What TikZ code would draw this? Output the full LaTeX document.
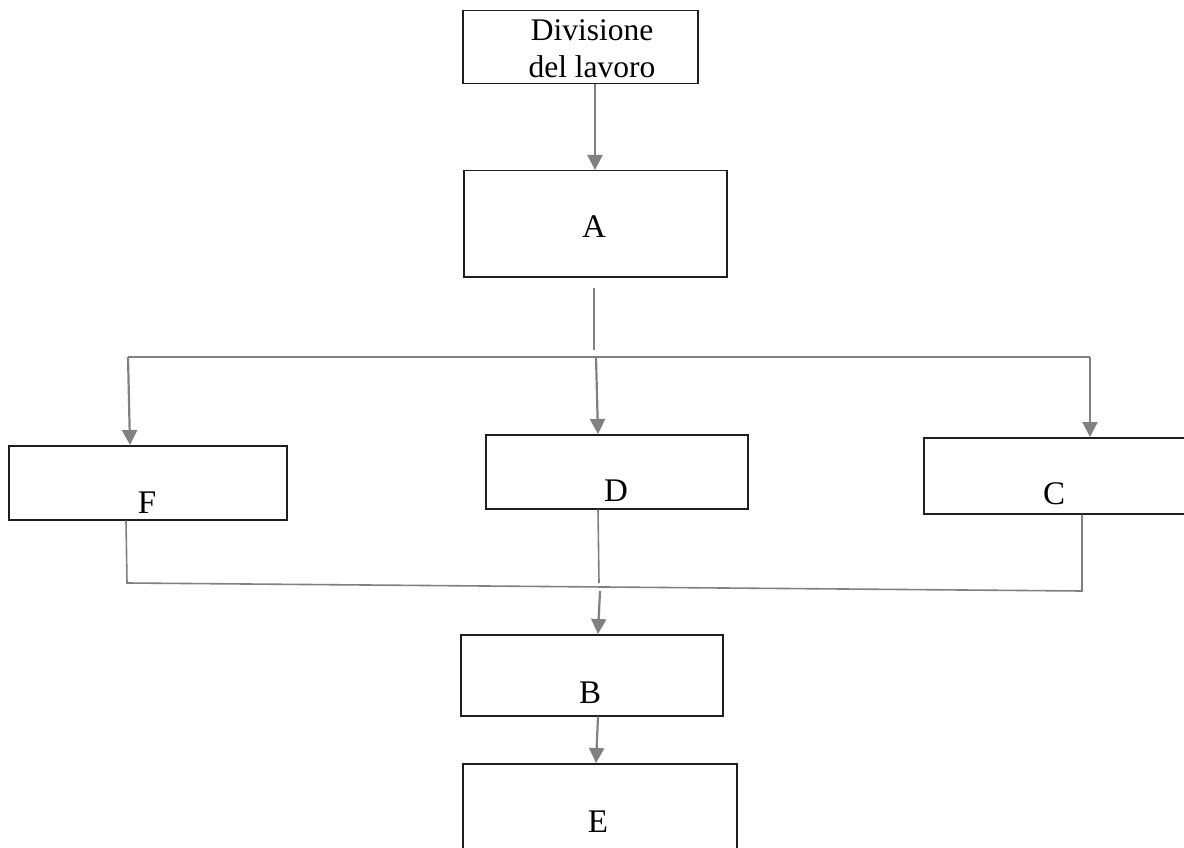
\documentclass[tikz,border=0pt]{standalone}
\usepackage{fontspec}
\setmainfont{Liberation Serif}
\usetikzlibrary{arrows.meta}
\definecolor{linkgray}{RGB}{128,128,128}
\definecolor{boxline}{RGB}{30,30,30}
\tikzset{
  box/.style={draw=boxline, line width=1.5pt, inner sep=0pt, anchor=north west},
  letter/.style={anchor=base, inner sep=0pt, font=\fontsize{33}{33}\selectfont},
  link/.style={draw=linkgray, line width=2.2pt},
  thin link/.style={draw=linkgray, line width=1.6pt},
  arrowlink/.style={link, -{Triangle[width=15pt,length=15pt]}}
}
\begin{document}
\begin{tikzpicture}[x=1pt,y=-1pt]
  \clip (0,0) rectangle (1184,848);
  \fill[white] (0,0) rectangle (1184,848);

  % boxes
  \node[box, minimum width=235pt, minimum height=73pt]  (div) at (462,10)  {};
  \node[box, minimum width=263pt, minimum height=106pt] (A)   at (463,170) {};
  \node[box, minimum width=278pt, minimum height=74pt]  (F)   at (8,445)   {};
  \node[box, minimum width=262pt, minimum height=74pt]  (D)   at (485,434) {};
  \node[box, minimum width=270pt, minimum height=76pt]  (C)   at (923,437) {};
  \node[box, minimum width=262pt, minimum height=81pt]  (B)   at (460,634) {};
  \node[box, minimum width=274pt, minimum height=110pt] (E)   at (462,763) {};

  % texts
  \node[align=center, inner sep=0pt, font=\fontsize{31.5}{37}\selectfont] (tdiv) at (592,49) {Divisione\\del lavoro};
  \node[letter] (tA) at (594,237) {A};
  \node[letter] (tF) at (147,513) {F};
  \node[letter] (tD) at (616,501) {D};
  \node[letter] (tC) at (1054,504) {C};
  \node[letter] (tB) at (590,703) {B};
  \node[letter] (tE) at (598,832) {E};

  % split below A
  \coordinate (trunkTop) at (594,288);
  \coordinate (trunkEnd) at (594,350);
  \coordinate (splitL) at (128,357);
  \coordinate (splitM) at (596,357);
  \coordinate (splitR) at (1090,357);

  % merge above B
  \coordinate (fDown) at (127,583);
  \coordinate (cDown) at (1082,591);
  \coordinate (dEnd)  at (599,583);
  \coordinate (bIn)   at (600,591);

  % connectors
  \draw[arrowlink] (div.south -| 595,0) -- (A.north -| 595,0);
  \draw[thin link] (trunkTop) -- (trunkEnd);
  \draw[link] (splitL) -- (splitR);
  \draw[arrowlink] (splitL) -- (F.north -| 130,0);
  \draw[arrowlink] (splitM) -- (D.north -| 598,0);
  \draw[arrowlink] (splitR) -- (C.north -| 1090,0);

  \draw[thin link] (F.south -| 126,0) -- (fDown) -- (cDown) -- (C.south -| 1082,0);
  \draw[thin link] (D.south -| 598,0) -- (dEnd);
  \draw[arrowlink] (bIn) -- (B.north -| 598,0);
  \draw[arrowlink] (B.south -| 598,0) -- (E.north -| 596,0);
\end{tikzpicture}
\end{document}
